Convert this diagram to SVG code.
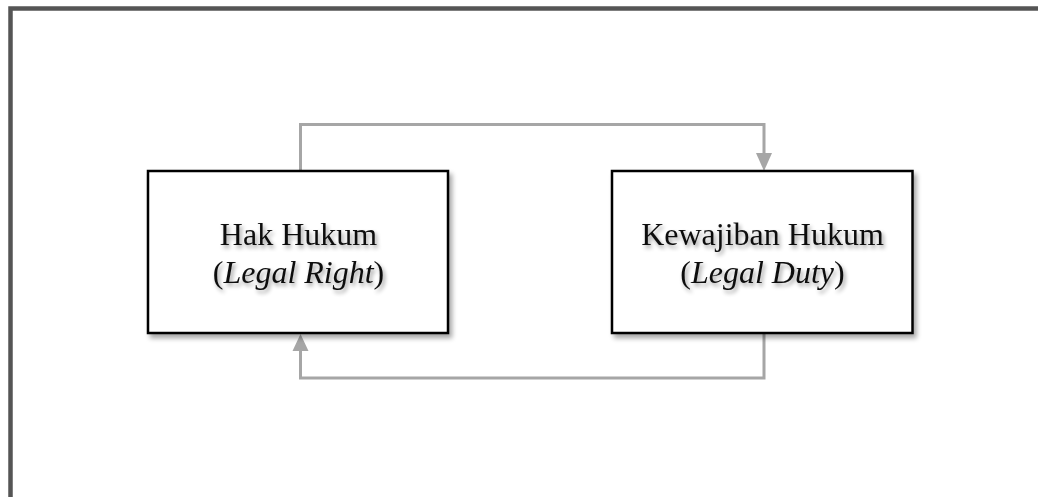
<svg xmlns="http://www.w3.org/2000/svg" width="1038" height="497" viewBox="0 0 1038 497">
  <style>
    .frame { fill: #ffffff; stroke: #555555; stroke-width: 4.5; }
    .box { fill: #ffffff; stroke: #000000; stroke-width: 2.5; filter: url(#boxShadow); }
    .label { font-family: "Liberation Serif", "Times New Roman", serif; font-size: 32px; fill: #111111; text-anchor: middle; filter: url(#textShadow); }
    .link { fill: none; stroke: #a6a6a6; stroke-width: 3; }
  </style>
  <defs>
    <filter id="boxShadow" x="-10%" y="-10%" width="125%" height="130%">
      <feGaussianBlur in="SourceAlpha" stdDeviation="2.5"/>
      <feOffset dx="3" dy="4" result="blur"/>
      <feComponentTransfer><feFuncA type="linear" slope="0.35"/></feComponentTransfer>
      <feMerge><feMergeNode/><feMergeNode in="SourceGraphic"/></feMerge>
    </filter>
    <filter id="textShadow" x="-10%" y="-30%" width="125%" height="170%">
      <feGaussianBlur in="SourceAlpha" stdDeviation="2"/>
      <feOffset dx="2" dy="3"/>
      <feComponentTransfer><feFuncA type="linear" slope="0.4"/></feComponentTransfer>
      <feMerge><feMergeNode/><feMergeNode in="SourceGraphic"/></feMerge>
    </filter>
    <marker id="arrow" viewBox="0 0 16 18" refX="16" refY="8" markerWidth="16" markerHeight="18" markerUnits="userSpaceOnUse" orient="auto">
      <path d="M0,0 L16,8 L0,16 Z" fill="#a6a6a6"/>
    </marker>
  </defs>

  <!-- outer frame, running past the right and bottom edges -->
  <rect class="frame" x="10.5" y="8.5" width="1040" height="500"/>

  <g id="connectors">
    <!-- right flows to duty, over the top -->
    <path class="link" d="M300.5,170 V124.5 H764 V154" />
    <path d="M756,153 L772,153 L764,171 Z" fill="#a6a6a6"/>
    <!-- duty flows back to right, under the bottom -->
    <path class="link" d="M764,334 V378 H300.5 V350" />
    <path d="M292.5,351 L308.5,351 L300.5,334 Z" fill="#a6a6a6"/>
  </g>

  <g id="hak-hukum">
    <rect class="box" x="148" y="171" width="300" height="162"/>
    <text class="label" x="298.5" y="245">Hak Hukum</text>
    <text class="label" x="298.5" y="283">(<tspan font-style="italic">Legal Right</tspan>)</text>
  </g>

  <g id="kewajiban-hukum">
    <rect class="box" x="612" y="171" width="300.5" height="162"/>
    <text class="label" x="762.5" y="245">Kewajiban Hukum</text>
    <text class="label" x="762.5" y="283">(<tspan font-style="italic">Legal Duty</tspan>)</text>
  </g>
</svg>
